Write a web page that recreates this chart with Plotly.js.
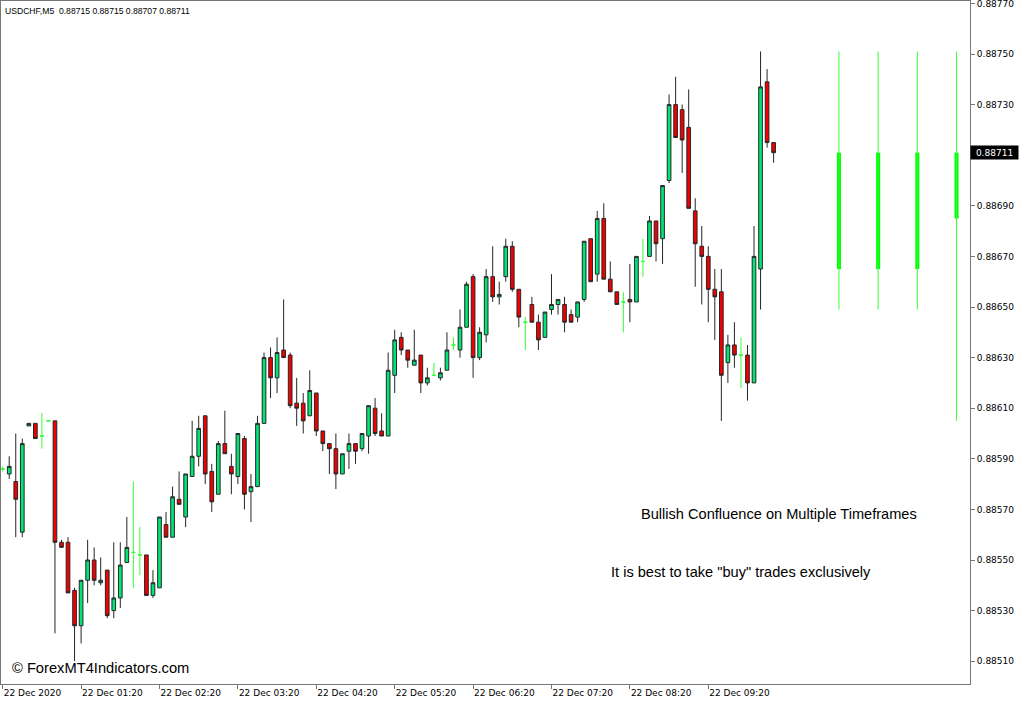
<!DOCTYPE html>
<html><head><meta charset="utf-8">
<script src="https://cdn.plot.ly/plotly-3.0.1.min.js"></script>
<style>html,body{margin:0;padding:0;background:#fff;} #chart{width:1024px;height:704px;}</style>
</head><body><div id="chart"></div>
<script>
const symbolTitle = 'USDCHF,M5  0.88715 0.88715 0.88707 0.88711';
const openP = [0.88586,0.88584,0.88581,0.88561,0.88603,0.88604,0.88599,0.88605,0.88605,0.88557,
0.88557,0.88538,0.88524,0.88542,0.88550,0.88541,0.88546,0.88530,0.88535,0.88549,
0.88553,0.88552,0.88552,0.88536,0.88539,0.88564,0.88559,0.88574,0.88567,0.88583,
0.88591,0.88607,0.88585,0.88576,0.88596,0.88587,0.88583,0.88598,0.88577,0.88579,
0.88604,0.88630,0.88622,0.88633,0.88631,0.88612,0.88612,0.88607,0.88616,0.88601,
0.88596,0.88594,0.88584,0.88593,0.88596,0.88594,0.88599,0.88610,0.88601,0.88599,
0.88623,0.88638,0.88633,0.88627,0.88631,0.88620,0.88623,0.88622,0.88625,0.88635,
0.88633,0.88642,0.88662,0.88630,0.88639,0.88662,0.88654,0.88662,0.88674,0.88657,
0.88644,0.88651,0.88644,0.88638,0.88649,0.88651,0.88651,0.88647,0.88646,0.88653,
0.88677,0.88663,0.88685,0.88661,0.88656,0.88652,0.88653,0.88652,0.88668,0.88670,
0.88684,0.88677,0.88700,0.88730,0.88728,0.88721,0.88688,0.88674,0.88670,0.88657,
0.88656,0.88628,0.88635,0.88631,0.88631,0.88620,0.88665,0.88739,0.88715];
const highP = [0.88587,0.88591,0.88600,0.88598,0.88604,0.88604,0.88608,0.88605,0.88605,0.88558,
0.88559,0.88539,0.88542,0.88558,0.88555,0.88551,0.88546,0.88557,0.88557,0.88567,
0.88581,0.88563,0.88552,0.88546,0.88567,0.88569,0.88579,0.88585,0.88584,0.88605,
0.88607,0.88607,0.88588,0.88597,0.88609,0.88592,0.88600,0.88599,0.88584,0.88607,
0.88632,0.88634,0.88638,0.88653,0.88632,0.88622,0.88616,0.88625,0.88616,0.88601,
0.88596,0.88600,0.88592,0.88600,0.88596,0.88600,0.88611,0.88614,0.88608,0.88632,
0.88641,0.88640,0.88633,0.88641,0.88631,0.88626,0.88628,0.88626,0.88640,0.88638,
0.88649,0.88660,0.88663,0.88642,0.88665,0.88674,0.88660,0.88677,0.88676,0.88657,
0.88646,0.88654,0.88647,0.88648,0.88663,0.88653,0.88654,0.88649,0.88652,0.88676,
0.88677,0.88688,0.88691,0.88668,0.88656,0.88656,0.88667,0.88670,0.88677,0.88686,
0.88684,0.88698,0.88734,0.88741,0.88730,0.88736,0.88693,0.88682,0.88674,0.88665,
0.88665,0.88639,0.88644,0.88638,0.88635,0.88682,0.88751,0.88744,0.88715];
const lowP = [0.88585,0.88582,0.88559,0.88559,0.88603,0.88598,0.88594,0.88605,0.88521,0.88555,
0.88537,0.88510,0.88517,0.88533,0.88540,0.88540,0.88527,0.88527,0.88531,0.88549,
0.88539,0.88544,0.88536,0.88535,0.88539,0.88559,0.88559,0.88572,0.88563,0.88583,
0.88587,0.88580,0.88569,0.88576,0.88592,0.88576,0.88580,0.88570,0.88565,0.88579,
0.88604,0.88614,0.88616,0.88630,0.88610,0.88603,0.88600,0.88607,0.88599,0.88593,
0.88584,0.88578,0.88584,0.88586,0.88588,0.88593,0.88592,0.88599,0.88599,0.88599,
0.88616,0.88631,0.88626,0.88627,0.88616,0.88619,0.88623,0.88621,0.88625,0.88633,
0.88630,0.88642,0.88622,0.88629,0.88636,0.88652,0.88651,0.88660,0.88656,0.88642,
0.88633,0.88644,0.88633,0.88638,0.88647,0.88647,0.88640,0.88644,0.88644,0.88652,
0.88660,0.88660,0.88661,0.88656,0.88651,0.88640,0.88644,0.88652,0.88662,0.88670,
0.88668,0.88667,0.88699,0.88717,0.88703,0.88689,0.88658,0.88651,0.88644,0.88637,
0.88605,0.88620,0.88626,0.88618,0.88613,0.88620,0.88649,0.88713,0.88707];
const closeP = [0.88586,0.88587,0.88574,0.88596,0.88604,0.88598,0.88599,0.88605,0.88557,0.88555,
0.88537,0.88524,0.88542,0.88550,0.88542,0.88542,0.88528,0.88535,0.88548,0.88555,
0.88553,0.88552,0.88536,0.88541,0.88567,0.88559,0.88575,0.88572,0.88584,0.88591,
0.88602,0.88584,0.88573,0.88596,0.88592,0.88584,0.88600,0.88576,0.88579,0.88604,
0.88630,0.88622,0.88632,0.88630,0.88611,0.88610,0.88605,0.88617,0.88601,0.88596,
0.88594,0.88584,0.88592,0.88596,0.88593,0.88600,0.88611,0.88600,0.88599,0.88625,
0.88637,0.88633,0.88629,0.88629,0.88620,0.88622,0.88623,0.88624,0.88633,0.88635,
0.88642,0.88659,0.88630,0.88640,0.88662,0.88654,0.88655,0.88674,0.88657,0.88646,
0.88644,0.88644,0.88637,0.88648,0.88651,0.88653,0.88644,0.88644,0.88652,0.88676,
0.88660,0.88685,0.88661,0.88656,0.88651,0.88652,0.88652,0.88670,0.88668,0.88684,
0.88675,0.88698,0.88730,0.88717,0.88716,0.88689,0.88675,0.88670,0.88657,0.88654,
0.88623,0.88635,0.88631,0.88631,0.88620,0.88670,0.88737,0.88715,0.88711];

const timeTickBars = [0,12,24,36,48,60,72,84,96,108];
const timeTickLabels = ['22 Dec 2020','22 Dec 01:20','22 Dec 02:20','22 Dec 03:20','22 Dec 04:20',
  '22 Dec 05:20','22 Dec 06:20','22 Dec 07:20','22 Dec 08:20','22 Dec 09:20'];
const priceTicks = [0.88510,0.88530,0.88550,0.88570,0.88590,0.88610,0.88630,0.88650,0.88670,
  0.88690,0.88710,0.88730,0.88750,0.88770];

// multi-timeframe indicator candles
const mtfBars = [128,134,140,146];
const mtfOpen = [0.88665,0.88665,0.88665,0.88685];
const mtfHigh = [0.88751,0.88751,0.88751,0.88751];
const mtfLow = [0.88649,0.88649,0.88649,0.88605];
const mtfClose = [0.88711,0.88711,0.88711,0.88711];

const lastPrice = 0.88711;
const noteLines = ['Bullish Confluence on Multiple Timeframes','It is best to take "buy" trades exclusively'];
const watermark = '\u00A9 ForexMT4Indicators.com';

// split regular candles and dojis
const reg = {x:[],o:[],h:[],l:[],c:[]}, doji = {x:[],o:[],h:[],l:[],c:[]};
for (let i = 0; i < openP.length; i++) {
  const t = (openP[i] === closeP[i]) ? doji : reg;
  t.x.push(i); t.o.push(openP[i]); t.h.push(highP[i]); t.l.push(lowP[i]); t.c.push(closeP[i]);
}
const wickX = [], wickY = [];
for (let i = 0; i < mtfBars.length; i++) {
  wickX.push(mtfBars[i], mtfBars[i], null);
  wickY.push(mtfLow[i], mtfHigh[i], null);
}

const traces = [
  {type:'candlestick', x:reg.x, open:reg.o, high:reg.h, low:reg.l, close:reg.c,
   increasing:{fillcolor:'#00e676', line:{color:'#262626', width:1}},
   decreasing:{fillcolor:'#f00000', line:{color:'#262626', width:1}},
   whiskerwidth:0, hoverinfo:'skip', showlegend:false},
  {type:'candlestick', x:doji.x, open:doji.o, high:doji.h, low:doji.l, close:doji.c,
   increasing:{fillcolor:'#33ff33', line:{color:'#33ff33', width:1}},
   decreasing:{fillcolor:'#33ff33', line:{color:'#33ff33', width:1}},
   whiskerwidth:0, hoverinfo:'skip', showlegend:false},
  {type:'scatter', mode:'lines', x:wickX, y:wickY, line:{color:'#33ff33', width:1},
   hoverinfo:'skip', showlegend:false},
  {type:'bar', x:mtfBars, base:mtfOpen, y:mtfClose.map((c,i)=>c - mtfOpen[i]), width:0.62,
   marker:{color:'#00ff00', line:{width:0}}, hoverinfo:'skip', showlegend:false}
];

const axisFont = {family:'DejaVu Sans', size:9, color:'#000'};
const layout = {
  width:1024, height:704,
  margin:{l:1, r:54, t:1, b:20, pad:0},
  paper_bgcolor:'#fff', plot_bgcolor:'#fff',
  boxgap:0.25, boxgroupgap:0.25,
  showlegend:false,
  xaxis:{range:[-0.26, 148.06], rangeslider:{visible:false}, showgrid:false, zeroline:false,
    tickmode:'array', tickvals:timeTickBars, ticktext:timeTickLabels,
    ticks:'outside', ticklen:4, tickcolor:'#777', tickfont:axisFont,
    ticklabelposition:'outside right', ticklabeloverflow:'allow',
    showline:true, linecolor:'#777', linewidth:1, mirror:true, fixedrange:true},
  yaxis:{range:[0.8850099, 0.8877095], side:'right', showgrid:false, zeroline:false,
    tickmode:'array', tickvals:priceTicks,
    ticktext:priceTicks.map(v => Math.abs(v - lastPrice) < 0.00003 ? '' : v.toFixed(5)),
    ticks:'outside', ticklen:4, tickcolor:'#777', tickfont:axisFont,
    ticklabeloverflow:'allow',
    showline:true, linecolor:'#777', linewidth:1, mirror:true, fixedrange:true},
  annotations:[
    {xref:'paper', yref:'paper', x:0, y:1, xanchor:'left', yanchor:'top', xshift:2, yshift:-3,
     text:symbolTitle, showarrow:false, font:{family:'Liberation Sans', size:8.6, color:'#000'}},
    {xref:'paper', yref:'paper', x:0.8034, y:0.2489, xanchor:'center', yanchor:'middle',
     text:noteLines[0], showarrow:false, font:{family:'Liberation Sans', size:14.6, color:'#000'}},
    {xref:'paper', yref:'paper', x:0.7632, y:0.164, xanchor:'center', yanchor:'middle',
     text:noteLines[1], showarrow:false, font:{family:'Liberation Sans', size:14.6, color:'#000'}},
    {xref:'paper', yref:'paper', x:0.1022, y:0.0234, xanchor:'center', yanchor:'middle',
     text:watermark, showarrow:false, font:{family:'Liberation Sans', size:14.7, color:'#000'}},
    {xref:'paper', yref:'y', x:1, y:lastPrice, xanchor:'left', yanchor:'middle',
     text:lastPrice.toFixed(5), showarrow:false, bgcolor:'#000', borderpad:0,
     width:47, height:13, align:'center',
     font:{family:'DejaVu Sans', size:9, color:'#fff'}}
  ]
};
Plotly.newPlot('chart', traces, layout, {staticPlot:true, displayModeBar:false});
</script></body></html>
